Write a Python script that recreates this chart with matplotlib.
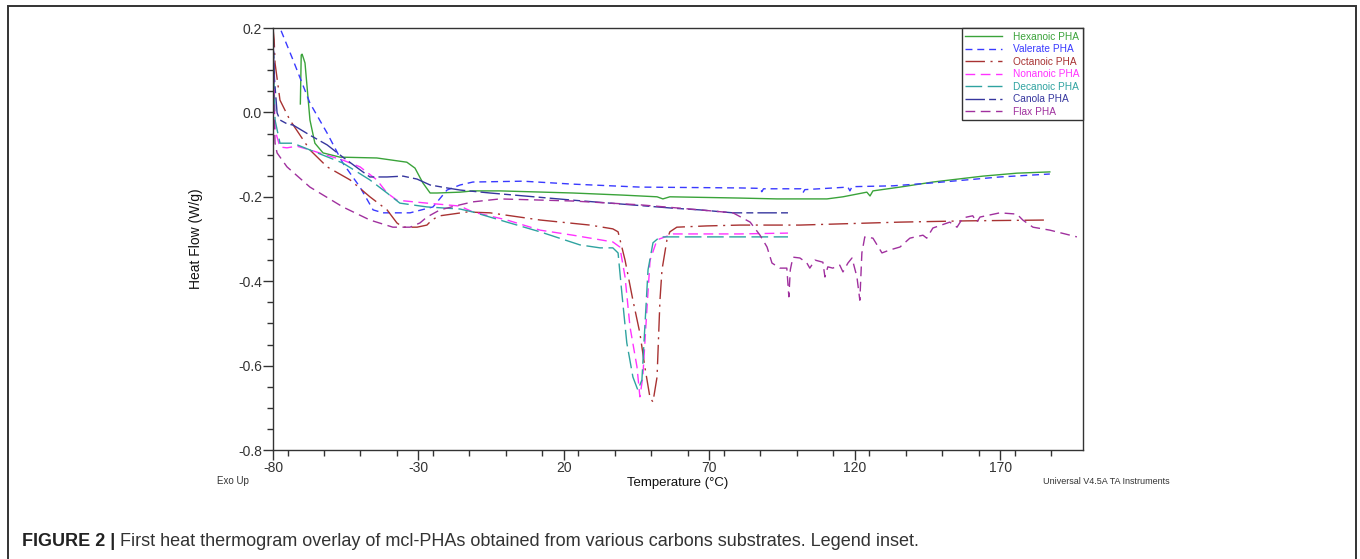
import matplotlib
matplotlib.use("Agg")
import matplotlib.pyplot as plt
from matplotlib.patches import Rectangle
from matplotlib.ticker import MultipleLocator

plt.rcParams['font.family'] = ['Liberation Sans', 'DejaVu Sans']
plt.rcParams['axes.unicode_minus'] = False

# ---------------- data (Temperature °C, Heat Flow W/g) ----------------
hex_T = [-70.6, -70.3, -70.0, -69.6, -69.0, -67.3, -65.6, -62.8, -57.0, -44.3, -34.0, -31.2,
         -28.5, -26.0, -23.6, -15.7, -11.3, -2.0, 23.1, 40.3, 52.0, 54.0, 56.4, 80.5, 93.2,
         110.4, 115.9, 124.1, 125.2, 126.2, 135.5, 146.8, 164.0, 175.7, 187.0]
hex_HF = [0.020, 0.136, 0.138, 0.130, 0.117, -0.018, -0.073, -0.096, -0.106, -0.108, -0.118, -0.132,
          -0.167, -0.191, -0.191, -0.189, -0.186, -0.186, -0.191, -0.196, -0.200, -0.205, -0.200, -0.203, -0.205,
          -0.205, -0.200, -0.189, -0.198, -0.186, -0.177, -0.165, -0.151, -0.144, -0.141]

val_T = [-78.5, -77.6, -73.1, -67.3, -61.4, -56.0, -50.1, -45.6, -42.2, -32.9, -25.0, -20.2,
         -15.7, -11.3, 5.9, 23.1, 46.1, 80.5, 87.4, 88.0, 88.6, 101.4, 102.1, 102.8, 117.6,
         118.3, 119.0, 133.1, 146.8, 169.8, 187.0]
val_HF = [0.22, 0.200, 0.124, 0.022, -0.049, -0.120, -0.177, -0.231, -0.238, -0.238, -0.224, -0.184,
          -0.172, -0.165, -0.163, -0.170, -0.177, -0.179, -0.180, -0.188, -0.181, -0.181, -0.191, -0.183, -0.177,
          -0.186, -0.176, -0.174, -0.167, -0.153, -0.146]

oct_T = [-80.0, -79.6, -79.3, -77.6, -74.2, -67.3, -61.4, -53.5, -46.7, -40.8, -37.4, -35.3,
         -30.5, -27.1, -25.4, -23.6, -22.6, -13.3, -5.4, 11.8, 28.9, 36.8, 38.6, 41.0, 43.7,
         46.1, 47.8, 49.6, 50.6, 52.0, 53.0, 53.7, 55.4, 56.4, 58.8, 69.1, 80.5, 101.1,
         135.5, 158.5, 186.3]
oct_HF = [0.200, 0.172, 0.117, 0.029, -0.018, -0.089, -0.129, -0.160, -0.200, -0.231, -0.262, -0.272,
          -0.272, -0.267, -0.255, -0.248, -0.245, -0.236, -0.238, -0.255, -0.267, -0.276, -0.283, -0.350, -0.445,
          -0.523, -0.603, -0.677, -0.686, -0.627, -0.445, -0.373, -0.302, -0.283, -0.272, -0.269, -0.267, -0.267,
          -0.260, -0.257, -0.255]

non_T = [-80.0, -79.6, -79.3, -77.6, -75.2, -71.8, -67.3, -56.0, -50.1, -44.3, -40.8, -37.4,
         -27.1, -15.7, -11.3, 0.4, 11.8, 23.1, 36.8, 39.2, 41.0, 42.7, 45.1, 46.1, 47.1,
         48.5, 49.6, 52.0, 57.5, 80.5, 97.0]
non_HF = [0.200, 0.050, -0.042, -0.082, -0.084, -0.080, -0.089, -0.113, -0.129, -0.160, -0.191, -0.208,
          -0.215, -0.222, -0.236, -0.255, -0.279, -0.291, -0.307, -0.319, -0.390, -0.508, -0.603, -0.674, -0.627,
          -0.468, -0.350, -0.302, -0.288, -0.288, -0.286]

dec_T = [-80.0, -79.6, -79.3, -77.6, -73.1, -67.3, -56.0, -46.7, -40.8, -36.4, -27.1, -15.7,
         -11.3, 0.4, 11.8, 25.5, 32.4, 36.8, 38.6, 39.9, 41.6, 43.7, 45.4, 46.8, 47.8,
         48.9, 50.6, 53.0, 80.5, 97.0]
dec_HF = [0.200, 0.060, -0.018, -0.073, -0.073, -0.089, -0.120, -0.160, -0.191, -0.215, -0.224, -0.229,
          -0.236, -0.260, -0.283, -0.314, -0.321, -0.321, -0.333, -0.428, -0.546, -0.627, -0.658, -0.634, -0.509,
          -0.373, -0.309, -0.295, -0.295, -0.295]

can_T = [-80.0, -79.5, -78.6, -77.6, -75.2, -73.1, -67.3, -61.4, -56.0, -50.1, -46.7, -40.8,
         -35.3, -30.5, -26.0, -20.2, -15.7, -5.4, 23.1, 57.5, 66.7, 78.1, 97.0]
can_HF = [0.200, 0.080, -0.001, -0.018, -0.027, -0.030, -0.054, -0.077, -0.106, -0.136, -0.153, -0.153,
          -0.151, -0.158, -0.172, -0.179, -0.184, -0.191, -0.208, -0.227, -0.231, -0.238, -0.238]

flax_T = [-80.0, -79.6, -79.3, -78.6, -75.2, -67.3, -56.0, -46.7, -38.8, -32.9, -29.5, -27.1,
          -22.6, -15.7, -11.3, -2.0, 23.1, 46.1, 66.7, 78.1, 84.0, 87.4, 89.8, 91.5, 94.2,
          96.6, 97.3, 97.8, 98.7, 101.1, 103.5, 104.5, 106.3, 109.0, 109.7, 110.7, 112.4, 114.8,
          115.9, 117.6, 119.0, 120.7, 121.7, 122.4, 123.4, 126.2, 129.3, 132.0, 135.5, 138.9,
          143.4, 144.7, 146.8, 152.6, 155.1, 157.1, 160.5, 161.9, 163.0, 169.8, 175.7, 177.7,
          181.2, 187.0, 196.3]
flax_HF = [0.200, 0.000, -0.073, -0.096, -0.129, -0.177, -0.224, -0.255, -0.272, -0.272, -0.262, -0.248,
           -0.231, -0.219, -0.212, -0.205, -0.210, -0.219, -0.231, -0.238, -0.260, -0.291, -0.319, -0.357, -0.369,
           -0.369, -0.437, -0.373, -0.343, -0.345, -0.357, -0.369, -0.350, -0.355, -0.390, -0.366, -0.369, -0.362,
           -0.378, -0.357, -0.345, -0.390, -0.445, -0.333, -0.295, -0.298, -0.333, -0.326, -0.319, -0.298,
           -0.291, -0.298, -0.274, -0.260, -0.272, -0.250, -0.245, -0.260, -0.248, -0.238, -0.241, -0.255,
           -0.272, -0.279, -0.295]

series_names = ["Hexanoic PHA", "Valerate PHA", "Octanoic PHA", "Nonanoic PHA",
                "Decanoic PHA", "Canola PHA", "Flax PHA"]
x_ticks = [-80, -30, 20, 70, 120, 170]
y_ticks = [0.2, 0.0, -0.2, -0.4, -0.6, -0.8]
y_tick_labels = ["0.2", "0.0", "-0.2", "-0.4", "-0.6", "-0.8"]

# ---------------- styles ----------------
styles = [
    dict(color="#3aa33a", ls="-"),
    dict(color="#3a3aff", ls=(0, (5, 3.5))),
    dict(color="#a83232", ls=(0, (14, 4, 1.5, 4))),
    dict(color="#ff33ff", ls=(0, (7, 4))),
    dict(color="#2fa3a0", ls=(0, (12, 4))),
    dict(color="#36369e", ls=(0, (14, 3, 5, 3))),
    dict(color="#a0309e", ls=(0, (7, 4))),
]
data = [(hex_T, hex_HF), (val_T, val_HF), (oct_T, oct_HF), (non_T, non_HF),
        (dec_T, dec_HF), (can_T, can_HF), (flax_T, flax_HF)]

fig = plt.figure(figsize=(13.6, 5.59), dpi=100)
ax = fig.add_axes([273/1360, 1-450/559, (1083-273)/1360, (450-28)/559])

for (T, H), st, name in zip(data, styles, series_names):
    ax.plot(T, H, color=st["color"], linestyle=st["ls"], lw=1.0, label=name)

ax.set_xlim(-80, 198.4)
ax.set_ylim(-0.8, 0.2)
ax.set_xticks(x_ticks)
ax.set_xticklabels([str(t) for t in x_ticks])
ax.set_yticks(y_ticks)
ax.set_yticklabels(y_tick_labels)
ax.xaxis.set_minor_locator(MultipleLocator(12.5))
ax.yaxis.set_minor_locator(MultipleLocator(0.05))
ax.tick_params(which="major", direction="out", length=7, width=1, labelsize=10, colors="#333333", pad=1)
ax.tick_params(which="minor", direction="out", length=4, width=1, colors="#333333")
for s in ax.spines.values():
    s.set_color("#333333")
    s.set_linewidth(1.0)

ax.set_ylabel("Heat Flow (W/g)", fontsize=10, color="#111111")
ax.yaxis.set_label_coords(-0.0864, 0.5)
ax.set_xlabel("Temperature (°C)", fontsize=9.5, color="#111111")
ax.xaxis.set_label_coords(0.5, -0.064)

leg = ax.legend(loc="upper right", bbox_to_anchor=(1.0, 1.0), borderaxespad=0,
                fontsize=7.3, handlelength=3.6, handletextpad=1.1, labelspacing=0.25,
                borderpad=0.35, fancybox=False, framealpha=1, edgecolor="#333333")
leg.get_frame().set_linewidth(1.0)
for txt, st in zip(leg.get_texts(), styles):
    txt.set_color(st["color"])

fig.text(233/1360, 1-481/559, "Exo Up", fontsize=7, ha="center", va="center", color="#333333")
fig.text(1043/1360, 1-481/559, "Universal V4.5A TA Instruments", fontsize=6.5, ha="left", va="center", color="#333333")

# outer frame
fig.patches.append(Rectangle((8/1360, -0.05), (1356-8)/1360, 1-6/559+0.05, transform=fig.transFigure,
                             fill=False, edgecolor="#333333", linewidth=1.4, clip_on=False))

# caption
fig.canvas.draw()
r = fig.canvas.get_renderer()
t1 = fig.text(22/1360, 1-541/559, "FIGURE 2 |", fontsize=13, fontweight="bold", ha="left", va="center", color="#222222")
bb = t1.get_window_extent(renderer=r)
fig.text(bb.x1/1360 + 5/1360, 1-541/559,
         "First heat thermogram overlay of mcl-PHAs obtained from various carbons substrates. Legend inset.",
         fontsize=13, ha="left", va="center", color="#333333")

fig.savefig("out.png", dpi=100)
